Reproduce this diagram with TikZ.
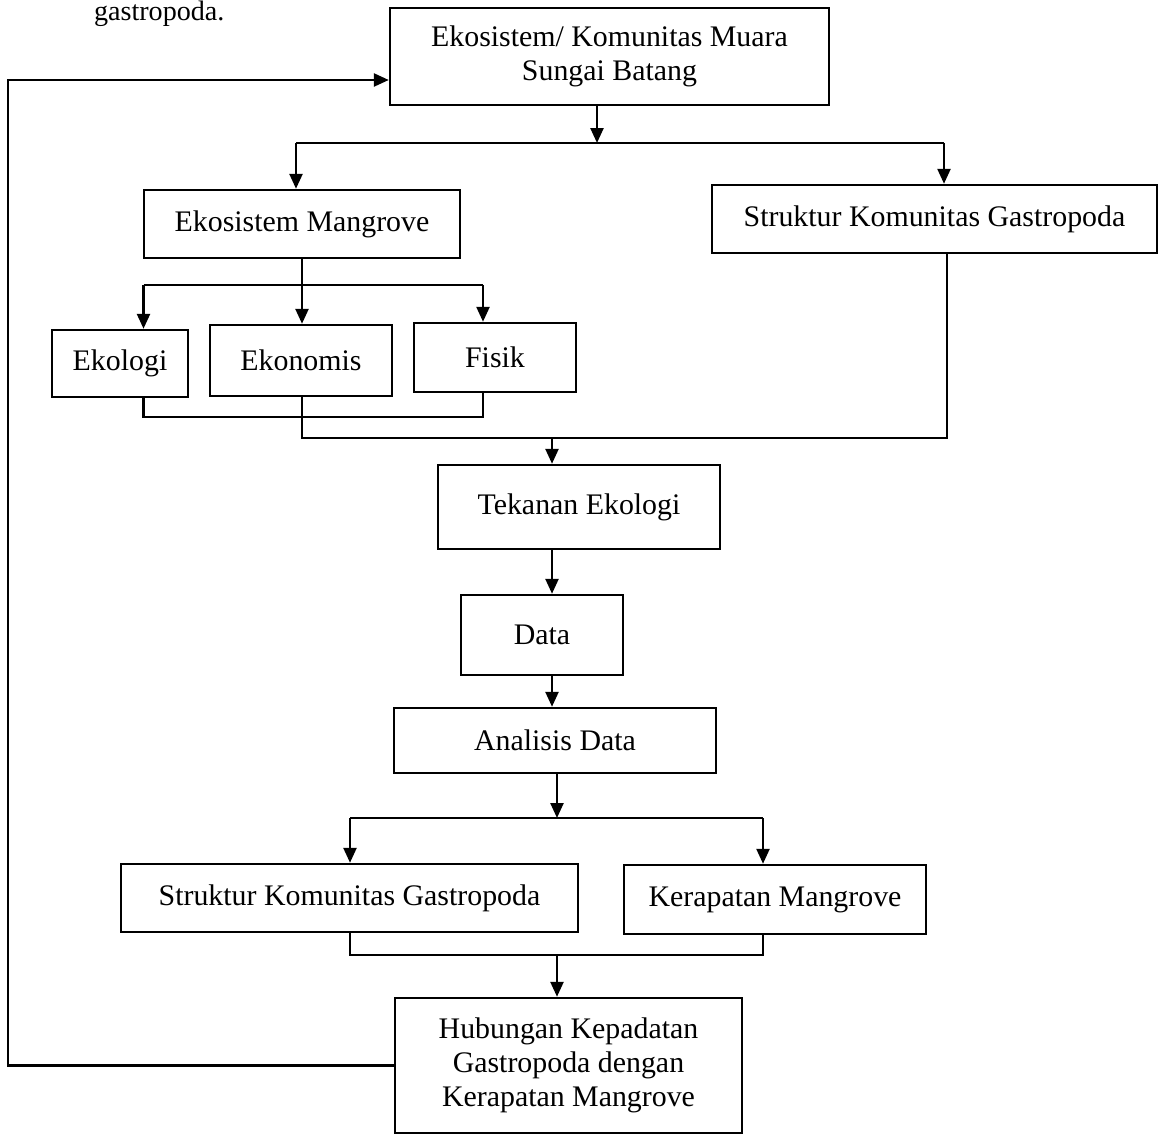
\documentclass[tikz,border=0pt]{standalone}
\usepackage{fontspec}
\setmainfont{Liberation Serif}
\usepackage{tikz}
\usetikzlibrary{arrows.meta}
\usetikzlibrary{positioning}

\begin{document}
\begin{tikzpicture}[x={(0.02cm,0)}, y={(0,-0.02cm)}, line width=1.4pt,
    kotak/.style={draw, align=center, inner sep=2pt, font=\fontsize{17}{19.5}\selectfont},
    panah/.style={-{Triangle[length=0.3cm, width=0.26cm]}}]
      \useasboundingbox (0,0) rectangle (1164,1135);
      \node[anchor=base west, font=\fontsize{16}{19}\selectfont] (potongan) at (87,21) {gastropoda.};

      \node[kotak, minimum width=8.78cm, minimum height=1.94cm] (muara) at (609.5,56.5) {Ekosistem/ Komunitas Muara\\Sungai Batang};
      \node[kotak, minimum width=6.32cm, minimum height=1.36cm] (mangrove) at (302,224) {Ekosistem Mangrove};
      \node[kotak, minimum width=8.9cm, minimum height=1.36cm] (gastro1) at (934.5,219) {Struktur Komunitas Gastropoda};
      \node[kotak, minimum width=2.72cm, minimum height=1.34cm] (ekologi) at (120,363.5) {Ekologi};
      \node[kotak, minimum width=3.64cm, minimum height=1.42cm] (ekonomis) at (301,360.5) {Ekonomis};
      \node[kotak, minimum width=3.24cm, minimum height=1.38cm] (fisik) at (495,357.5) {Fisik};
      \node[kotak, minimum width=5.64cm, minimum height=1.68cm] (tekanan) at (579,507) {Tekanan Ekologi};
      \node[kotak, minimum width=3.24cm, minimum height=1.6cm] (data) at (542,635) {Data};
      \node[kotak, minimum width=6.44cm, minimum height=1.3cm] (analisis) at (555,740.5) {Analisis Data};
      \node[kotak, minimum width=9.14cm, minimum height=1.36cm] (gastro2) at (349.5,898) {Struktur Komunitas Gastropoda};
      \node[kotak, minimum width=6.04cm, minimum height=1.38cm] (kerapatan) at (775,899.5) {Kerapatan Mangrove};
      \node[kotak, minimum width=6.94cm, minimum height=2.7cm] (hubungan) at (568.5,1065.5) {Hubungan Kepadatan\\Gastropoda dengan\\Kerapatan Mangrove};

      % cabang dari muara
      \coordinate (a0) at (597,143);
      \coordinate (a1) at (296,143);
      \coordinate (a2) at (944,143);
      \draw[panah] (muara.south -| a0) -- (a0);
      \draw (a1) -- (a2);
      \draw[panah] (a1) -- (a1 |- mangrove.north);
      \draw[panah] (a2) -- (a2 |- gastro1.north);

      % cabang dari mangrove
      \coordinate (b0) at (302,285);
      \coordinate (b1) at (143.5,285);
      \coordinate (b2) at (483,285);
      \draw (mangrove.south -| b0) -- (b0);
      \draw (b1) -- (b2);
      \draw[panah] (b1) -- (b1 |- ekologi.north);
      \draw[panah] (b0) -- (b0 |- ekonomis.north);
      \draw[panah] (b2) -- (b2 |- fisik.north);

      \coordinate (d1) at (143.5,417);
      \coordinate (d2) at (483,417);
      \draw (ekologi.south -| d1) -- (d1) -- (d2) -- (fisik.south -| d2);

      \coordinate (e0) at (552,438);
      \coordinate (e1) at (302,438);
      \coordinate (e2) at (947,438);
      \draw (ekonomis.south -| e1) -- (e1) -- (e2) -- (gastro1.south -| e2);
      \draw[panah] (e0) -- (e0 |- tekanan.north);
      \draw[panah] (tekanan.south -| e0) -- (data.north -| e0);
      \draw[panah] (data.south -| e0) -- (analisis.north -| e0);

      % cabang dari analisis
      \coordinate (f0) at (557,818);
      \coordinate (f1) at (350,818);
      \coordinate (f2) at (763,818);
      \draw[panah] (analisis.south -| f0) -- (f0);
      \draw (f1) -- (f2);
      \draw[panah] (f1) -- (f1 |- gastro2.north);
      \draw[panah] (f2) -- (f2 |- kerapatan.north);

      \coordinate (g0) at (557,955);
      \coordinate (g1) at (350,955);
      \coordinate (g2) at (763,955);
      \draw (gastro2.south -| g1) -- (g1) -- (g2) -- (kerapatan.south -| g2);
      \draw[panah] (g0) -- (g0 |- hubungan.north);

      % umpan balik
      \coordinate (h1) at (8,1066);
      \coordinate (h2) at (8,80);
      \draw[panah] (hubungan.west) -- (hubungan.west -| h1) -- (h2) -- (muara.west |- h2);
\end{tikzpicture}
\end{document}
